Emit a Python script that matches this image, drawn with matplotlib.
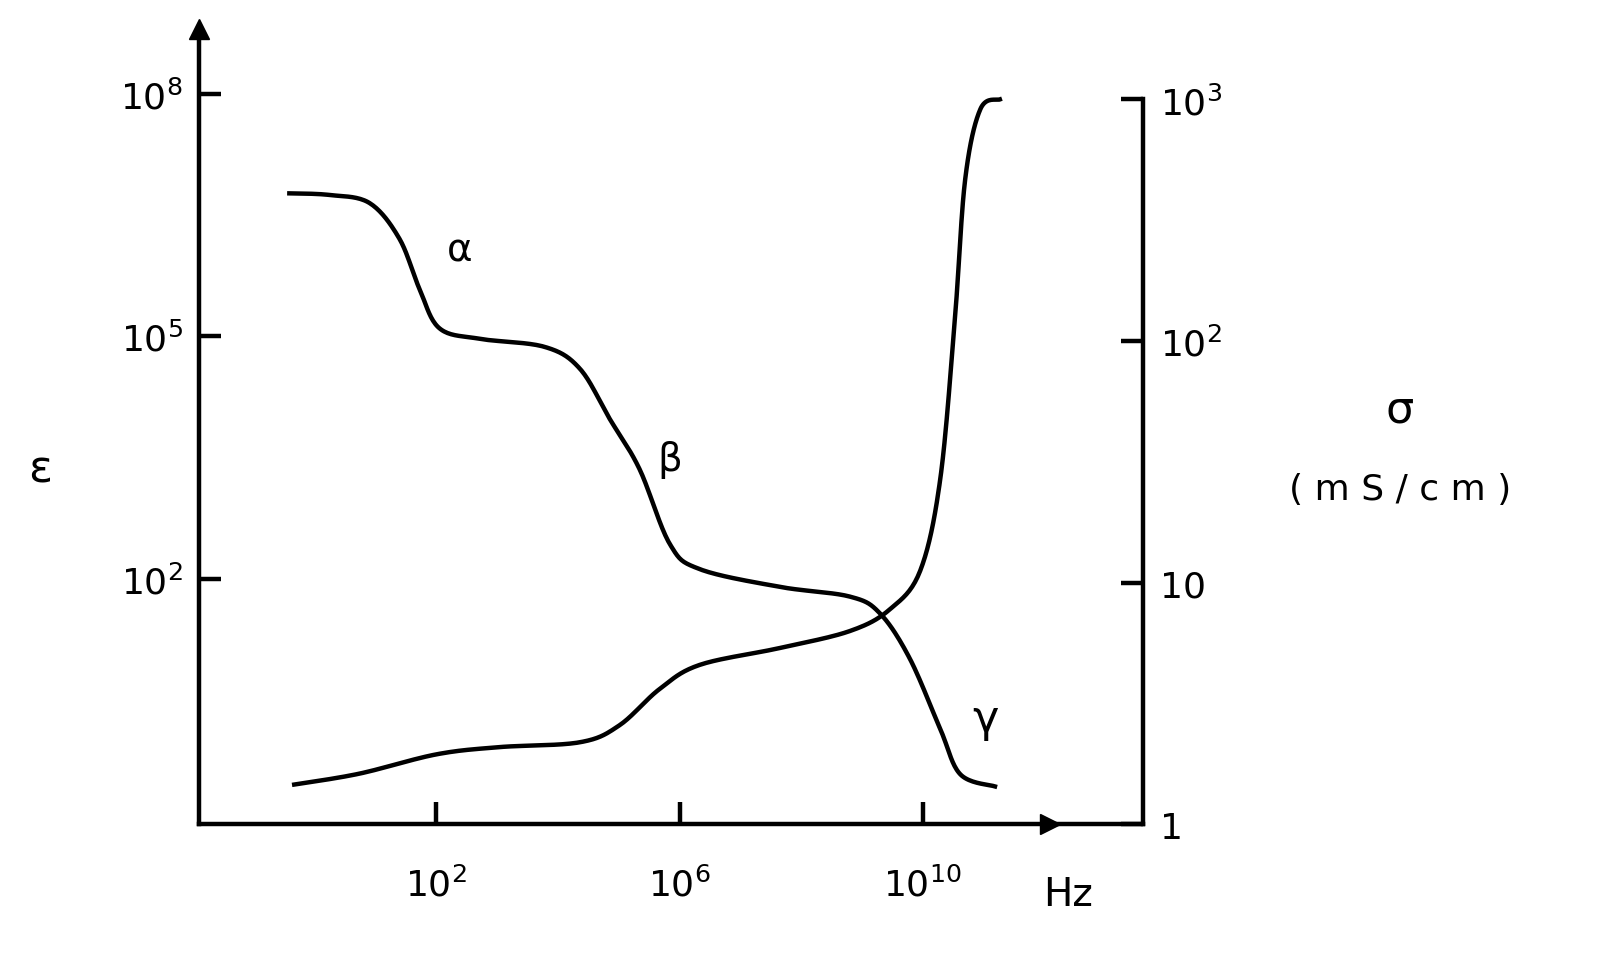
import numpy as np
import matplotlib
matplotlib.use("Agg")
import matplotlib.pyplot as plt

# log10(frequency / Hz) and log10(epsilon)
eps_logf = [-0.42, 0.24, 0.9, 1.39, 1.72, 2.05, 2.71, 3.78, 4.36, 4.85, 5.34, 5.84, 6.33, 7.65, 8.80, 9.30, 9.79, 10.29, 10.62, 11.19]
eps_log = [6.77, 6.75, 6.65, 6.21, 5.59, 5.10, 4.97, 4.87, 4.60, 3.98, 3.36, 2.43, 2.12, 1.90, 1.78, 1.57, 1.01, 0.14, -0.42, -0.57]
# log10(frequency) and log10(sigma / mS/cm)
sig_logf = [-0.34, 0.73, 2.0, 3.04, 4.36, 5.01, 5.67, 6.33, 7.65, 8.80, 9.46, 9.96, 10.29, 10.53, 10.70, 10.95, 11.27]
sig_log = [0.165, 0.21, 0.29, 0.32, 0.34, 0.41, 0.56, 0.66, 0.73, 0.80, 0.89, 1.05, 1.43, 2.09, 2.67, 2.96, 3.0]


def smooth(xs, ys, n=20):
    # Catmull-Rom rendering of the polyline (drawing only)
    p = np.column_stack([xs, ys]).astype(float)
    p = np.vstack([p[0], p, p[-1]])
    out = []
    t = np.linspace(0, 1, n, endpoint=False)[:, None]
    for i in range(1, len(p) - 2):
        p0, p1, p2, p3 = p[i - 1], p[i], p[i + 1], p[i + 2]
        c = 0.5 * ((2 * p1) + (-p0 + p2) * t + (2 * p0 - 5 * p1 + 4 * p2 - p3) * t**2
                   + (-p0 + 3 * p1 - 3 * p2 + p3) * t**3)
        out.append(c)
    out.append(p[-2][None, :])
    c = np.vstack(out)
    return c[:, 0], c[:, 1]


fig = plt.figure(figsize=(16.08, 9.78), dpi=100)
ax = fig.add_axes([0.124, 0.156, 0.587, 0.813])
ax2 = ax.twinx()
lw = 3.2
for a in (ax, ax2):
    a.set_xscale('log')
    for s in a.spines.values():
        s.set_visible(False)
ax.set_xlim(10**-1.9, 10**13.63)
ax.set_ylim(10**-1.04, 10**8.8)
ax2.set_ylim(1, 10**3.29)

ex, ey = smooth(eps_logf, eps_log)
sx, sy = smooth(sig_logf, sig_log)
ax.plot(10**ex, 10**ey, color='black', lw=lw)
ax2.plot(10**sx, 10**sy, color='black', lw=lw)

ax.spines['left'].set_visible(True); ax.spines['left'].set_linewidth(lw)
ax.spines['bottom'].set_visible(True); ax.spines['bottom'].set_linewidth(lw)
ax2.spines['right'].set_visible(True); ax2.spines['right'].set_linewidth(lw)
ax2.spines['right'].set_bounds(1, 1000)
ax.plot([0], [1], marker='^', color='black', ms=14, transform=ax.transAxes, clip_on=False)
ax.plot([10**12.1], [0], marker='>', color='black', ms=14, transform=ax.get_xaxis_transform(), clip_on=False)

fs = 26
ax.set_xticks([1e2, 1e6, 1e10])
ax.set_xticklabels([r'$10^{2}$', r'$10^{6}$', r'$10^{10}$'], fontsize=fs)
ax.xaxis.set_minor_locator(matplotlib.ticker.NullLocator())
ax.tick_params(axis='x', direction='in', length=16, width=lw, pad=30)
ax.set_yscale('log')
ax.set_yticks([1e2, 1e5, 1e8])
ax.set_yticklabels([r'$10^{2}$', r'$10^{5}$', r'$10^{8}$'], fontsize=fs)
ax.yaxis.set_minor_locator(matplotlib.ticker.NullLocator())
ax.tick_params(axis='y', direction='in', length=16, width=lw, pad=12)
ax2.set_yscale('log')
ax2.set_yticks([1, 10, 100, 1000])
ax2.set_yticklabels(['1', '10', r'$10^{2}$', r'$10^{3}$'], fontsize=fs)
ax2.yaxis.set_minor_locator(matplotlib.ticker.NullLocator())
ax2.tick_params(axis='y', direction='in', length=16, width=lw, pad=12)

fig.text(40/1608, 1-470/978, 'ε', fontsize=32, ha='center', va='center')
fig.text(1400/1608, 1-410/978, 'σ', fontsize=32, ha='center', va='center')
fig.text(1400/1608, 1-490/978, '( m S / c m )', fontsize=26, ha='center', va='center')
fig.text(1068/1608, 1-895/978, 'Hz', fontsize=28, ha='center', va='center')
fig.text(460/1608, 1-250/978, 'α', fontsize=28, ha='center', va='center')
fig.text(670/1608, 1-460/978, 'β', fontsize=28, ha='center', va='center')
fig.text(985/1608, 1-720/978, 'γ', fontsize=32, ha='center', va='center')

fig.savefig('out.png', dpi=100)
